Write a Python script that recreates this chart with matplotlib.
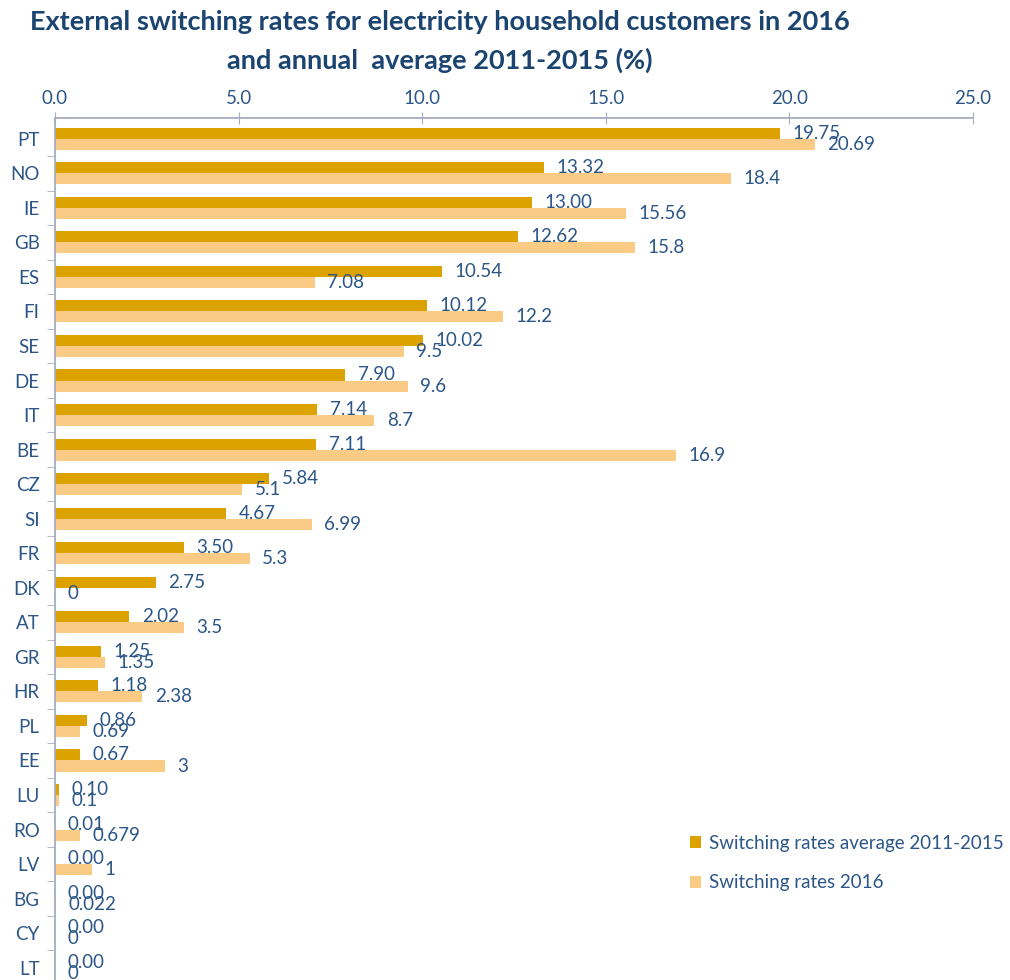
#!/usr/bin/env python3
# coding: utf-8

import numpy as np
import matplotlib
matplotlib.use('Agg')
import matplotlib.pyplot as plt

# --- switching rates per country (%)
countries = ['PT', 'NO', 'IE', 'GB', 'ES', 'FI', 'SE', 'DE', 'IT', 'BE',
             'CZ', 'SI', 'FR', 'DK', 'AT', 'GR', 'HR', 'PL', 'EE', 'LU',
             'RO', 'LV', 'BG', 'CY', 'LT']
avg_2011_2015 = [19.75, 13.32, 13.00, 12.62, 10.54, 10.12, 10.02, 7.90, 7.14,
                 7.11, 5.84, 4.67, 3.50, 2.75, 2.02, 1.25, 1.18, 0.86, 0.67,
                 0.10, 0.01, 0.00, 0.00, 0.00, 0.00]
rates_2016 = [20.69, 18.4, 15.56, 15.8, 7.08, 12.2, 9.5, 9.6, 8.7, 16.9,
              5.1, 6.99, 5.3, 0, 3.5, 1.35, 2.38, 0.69, 3, 0.1,
              0.679, 1, 0.022, 0, 0]
x_ticks = [0.0, 5.0, 10.0, 15.0, 20.0, 25.0]

DARK = '#DCA200'
LIGHT = '#FACB85'
TXT = '#2B5687'
TITLE = '#1B4470'
AXC = '#A6ADC2'
FS = 13.5

plt.rcParams['font.family'] = ['Lato', 'DejaVu Sans']

fig = plt.figure(figsize=(10.1, 9.8), dpi=100)
# axes runs off the bottom edge a little (LT row is cut)
ax = fig.add_axes([55 / 1010, -5 / 980, (973 - 55) / 1010, (980 - 118 + 5) / 980])

y = np.arange(len(countries))
h = 0.32
b1 = ax.barh(y - h / 2, avg_2011_2015, height=h, color=DARK,
             label='Switching rates average 2011-2015')
b2 = ax.barh(y + h / 2, rates_2016, height=h, color=LIGHT,
             label='Switching rates 2016')

# value labels: average with two decimals, 2016 as reported
for yy, v in zip(y, avg_2011_2015):
    ax.annotate(f'{v:.2f}', (v, yy - h / 2), xytext=(9, 0),
                textcoords='offset points', va='center', ha='left',
                fontsize=FS, color=TXT)
for yy, v in zip(y, rates_2016):
    ax.annotate(f'{v:g}', (v, yy + h / 2), xytext=(9, 0),
                textcoords='offset points', va='center', ha='left',
                fontsize=FS, color=TXT)

ax.set_xlim(0, 25)
ax.set_ylim(len(countries) - 0.5, -0.6)

ax.xaxis.tick_top()
ax.set_xticks(x_ticks)
ax.set_xticklabels([f'{t:.1f}' for t in x_ticks])
ax.tick_params(axis='x', direction='inout', length=8, color=AXC,
               labelsize=FS, labelcolor=TXT, pad=4)

ax.set_yticks(y)
ax.set_yticklabels(countries)
ax.set_yticks(np.arange(len(countries)) + 0.5, minor=True)
ax.tick_params(axis='y', which='major', length=0, labelsize=FS,
               labelcolor=TXT, pad=11)
ax.tick_params(axis='y', which='minor', length=6, color=AXC)

for s in ['right', 'bottom']:
    ax.spines[s].set_visible(False)
for s in ['top', 'left']:
    ax.spines[s].set_color(AXC)
    ax.spines[s].set_linewidth(1.3)

leg = ax.legend(loc='upper left', bbox_to_anchor=(673 / 1010, 1 - 818 / 980),
                bbox_transform=fig.transFigure, frameon=False,
                handlelength=0.6, handleheight=0.6, handletextpad=0.4,
                labelspacing=1.2, fontsize=FS)
for t in leg.get_texts():
    t.set_color(TXT)

fig.text(440 / 1010, 1 - 22 / 980,
         'External switching rates for electricity household customers in 2016',
         ha='center', va='center', fontsize=19.5, fontweight='bold', color=TITLE)
fig.text(440 / 1010, 1 - 60 / 980, 'and annual  average 2011-2015 (%)',
         ha='center', va='center', fontsize=19.5, fontweight='bold', color=TITLE)

fig.savefig('out.png', dpi=100)
